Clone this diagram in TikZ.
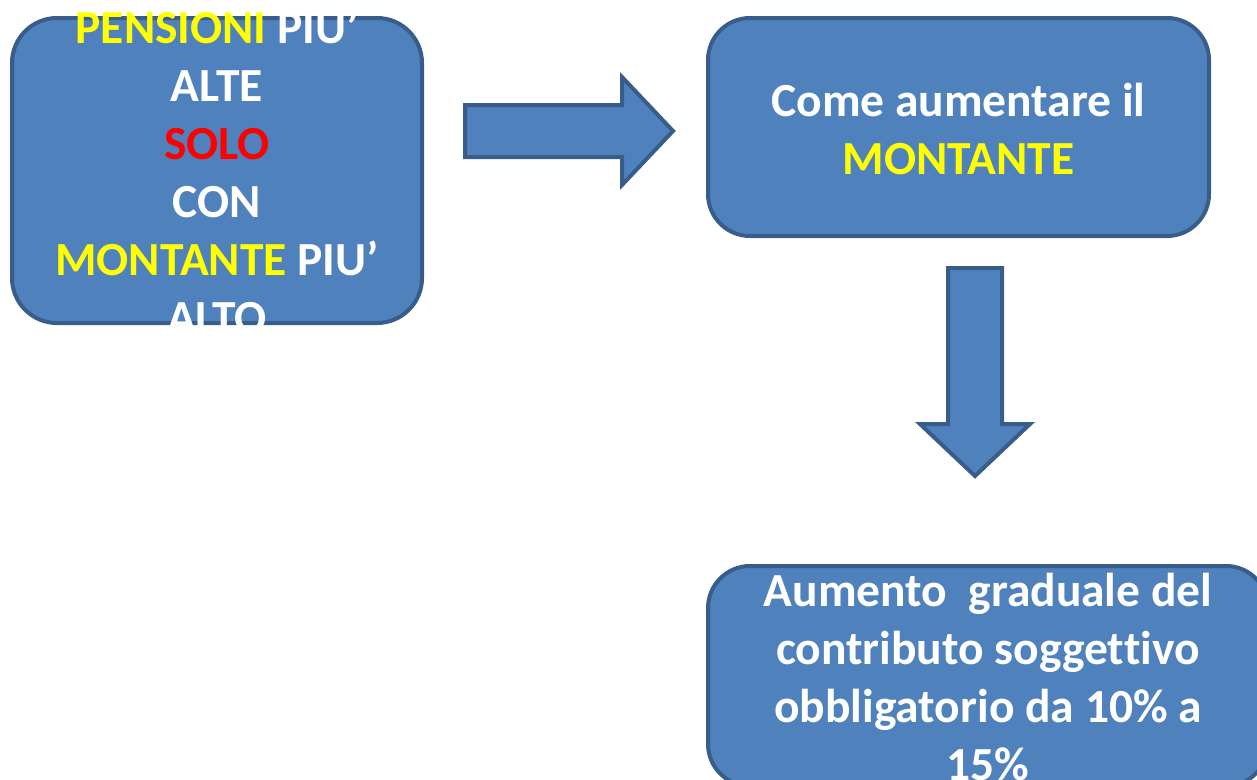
\documentclass[tikz,border=0pt]{standalone}
\usepackage{fontspec}
\setmainfont[Ligatures=NoCommon]{Carlito}
\definecolor{boxfill}{HTML}{4F81BD}
\definecolor{boxline}{HTML}{385D8A}
\definecolor{yel}{HTML}{FFFF00}
\definecolor{rd}{HTML}{FF0000}
\tikzset{
  roundbox/.style={draw=boxline, fill=boxfill, line width=4pt, rounded corners=42pt, inner sep=0pt},
  boxtext/.style={text=white, font=\bfseries\fontsize{47.5}{58}\selectfont, align=center, inner sep=0pt},
  blockarrow/.style={draw=boxline, fill=boxfill, line width=4pt, line join=miter}
}
\begin{document}
\begin{tikzpicture}[x=1pt,y=-1pt]
\useasboundingbox (0,0) rectangle (1257,779);
\clip (0,0) rectangle (1257,779);
% box 1
\node[roundbox, minimum width=410pt, minimum height=305pt, rounded corners=45pt] (b1) at (217,170.5) {};
\node[boxtext] (t1) at ([yshift=-1pt]b1.center) {\textcolor{yel}{PENSIONI} PIU’\\ALTE\\\textcolor{rd}{SOLO}\\CON\\\textcolor{yel}{MONTANTE} PIU’\\ALTO};
% box 2
\node[roundbox, minimum width=501pt, minimum height=218pt] (b2) at (958.5,127) {};
\node[boxtext] (t2) at ([yshift=-2pt]b2.center) {Come aumentare il\\\textcolor{yel}{MONTANTE}};
% box 3
\node[roundbox, minimum width=560pt, minimum height=220pt] (b3) at (988,676) {};
\node[boxtext] (t3) at ([yshift=-1pt]b3.center) {Aumento\ \ graduale del\\contributo sogget\kern0pt t\kern0pt ivo\\obbligatorio da 10\% a\\15\%};
% right arrow
\draw[blockarrow] (465,105) -- (622,105) -- (622,77) -- (673,131) -- (622,185) -- (622,157) -- (465,157) -- cycle;
% down arrow
\draw[blockarrow] (948,268) -- (1002,268) -- (1002,424) -- (1030,424) -- (975,476) -- (920,424) -- (948,424) -- cycle;
\end{tikzpicture}
\end{document}
